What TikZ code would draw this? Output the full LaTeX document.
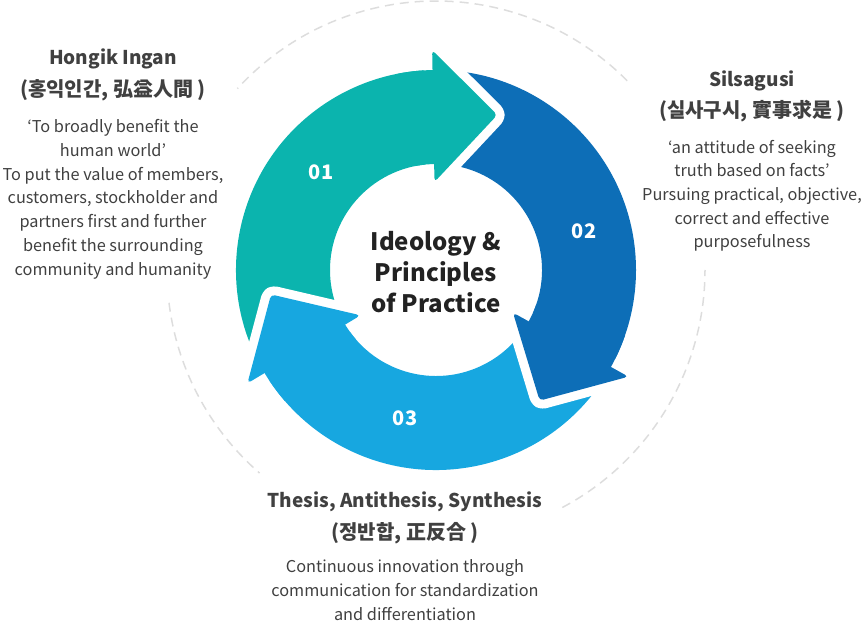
\documentclass[tikz,border=0pt]{standalone}
\usepackage{fontspec}
\setmainfont{Noto Sans CJK KR}
\usetikzlibrary{calc}
\definecolor{tealA}{HTML}{0BB4AE}
\definecolor{blueB}{HTML}{0D6EB7}
\definecolor{blueC}{HTML}{17A7E0}
\definecolor{titlegray}{HTML}{404040}
\definecolor{bodygray}{HTML}{404040}
\definecolor{centerblack}{HTML}{222222}
\definecolor{dashgray}{HTML}{DDDDDD}
\newcommand\ringband[3]{%
  \fill[#1] ([shift={(#2:200)}]C) arc[start angle=#2,end angle=#3,radius=200]
    -- ([shift={(#3:106)}]C) arc[start angle=#3,end angle=#2,radius=106] -- cycle;}
\newcommand\ringhead[2]{%
  \path[#1] ([shift={(#2:88)}]C) -- ([shift={(#2:220)}]C)
    -- ([shift={(#2-22.57:166.77)}]C) -- cycle;}
\begin{document}
\begin{tikzpicture}[x=1pt,y=1pt,
  guide/.style={draw=dashgray,line width=1.5pt,dash pattern=on 9pt off 6pt},
  cuthead/.style={draw=white,line width=18pt,line join=round,fill=#1,rounded corners=4pt},
  fillhead/.style={fill=#1,rounded corners=4pt},
  numlabel/.style={text=white,font=\bfseries\fontsize{20}{20}\selectfont,inner sep=0pt},
  titletext/.style={text=titlegray,font=\bfseries\fontsize{19}{19}\selectfont,anchor=base,inner sep=0pt},
  krtext/.style={text=titlegray,font=\bfseries\fontsize{20}{20}\selectfont,anchor=base,inner sep=0pt},
  bodytext/.style={text=bodygray,font=\fontsize{16.3}{23.7}\selectfont,align=center,anchor=base,inner sep=0pt}]
\useasboundingbox (0,0) rectangle (864,622);
\coordinate (C) at (436,352);
% dashed guide circle
\draw[guide] ([shift={(44.7:269)}]C) arc[start angle=44.7,end angle=137.6,radius=269];
\draw[guide] ([shift={(-62:269)}]C) arc[start angle=-62,end angle=0,radius=269];
\draw[guide] ([shift={(187:269)}]C) arc[start angle=187,end angle=229,radius=269];
% bands
\ringband{tealA}{211}{91}
\ringband{blueB}{91}{-29}
\ringband{blueC}{-29}{-149}
% heads with white gap
\ringhead{cuthead=tealA}{91}
\ringhead{cuthead=blueB}{-29}
\ringhead{cuthead=blueC}{-149}
% refill own band near head
\ringband{tealA}{101}{89}
\ringband{blueB}{-19}{-31}
\ringband{blueC}{-139}{-151}
\ringhead{fillhead=tealA}{91}
\ringhead{fillhead=blueB}{-29}
\ringhead{fillhead=blueC}{-149}
% numbers
\node[numlabel] (n1) at (321,450) {01};
\node[numlabel] (n2) at (584,391) {02};
\node[numlabel] (n3) at (405,204) {03};
% centre
\node[text=centerblack,font=\bfseries\fontsize{24}{31}\selectfont,align=center,anchor=base,inner sep=0pt] (ctr) at (436,310) {Ideology \&\\Principles\\of Practice};
% left block
\node[titletext] (t1) at (113,557) {Hongik Ingan};
\node[krtext] (k1) at (113,525) {(홍익인간, 弘益人間 )};
\node[bodytext] (b1) at (113,347) {‘To broadly benefit the\\human world’\\To put the value of members,\\customers, stockholder and\\partners first and further\\benefit the surrounding\\community and humanity};
% right block
\node[titletext] (t2) at (752,535) {Silsagusi};
\node[krtext] (k2) at (752,504) {(실사구시, 實事求是 )};
\node[bodytext] (b2) at (752,374) {‘an attitude of seeking\\truth based on facts’\\Pursuing practical, objective,\\correct and effective\\purposefulness};
% bottom block
\node[titletext] (t3) at (405,115) {Thesis, Antithesis, Synthesis};
\node[krtext] (k3) at (405,83) {(정반합, 正反合 )};
\node[bodytext] (b3) at (405,2) {Continuous innovation through\\communication for standardization\\and differentiation};
\end{tikzpicture}
\end{document}
